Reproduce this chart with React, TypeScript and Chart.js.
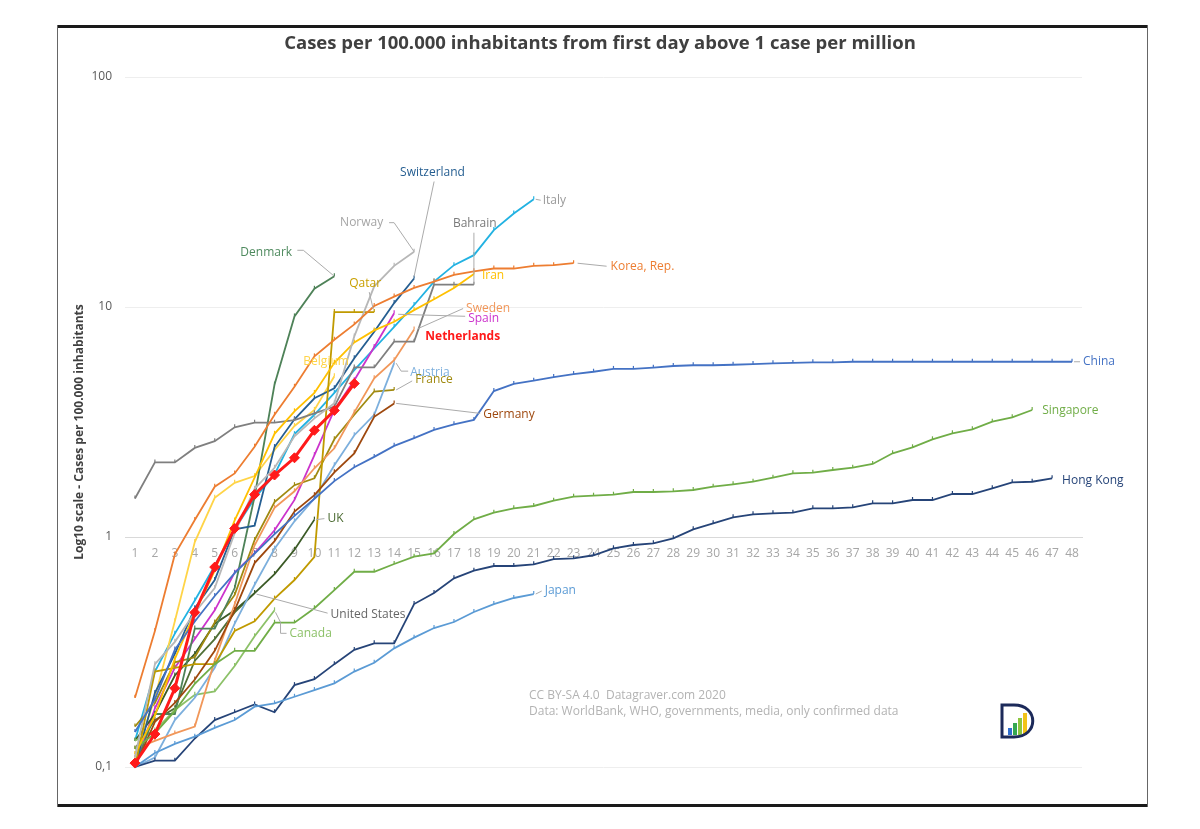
import React, { useEffect, useRef } from 'react';
import { Chart, registerables } from 'chart.js';

Chart.register(...registerables);

// ---------- data ----------
const dayLabels = ['1','2','3','4','5','6','7','8','9','10','11','12','13','14','15','16','17','18','19','20','21','22','23','24','25','26','27','28','29','30','31','32','33','34','35','36','37','38','39','40','41','42','43','44','45','46','47','48'];
const yTickValues = [0.1, 1, 10, 100];

const china = [0.142, 0.197, 0.324, 0.429, 0.554, 0.696, 0.847, 1.03, 1.235, 1.467, 1.75, 2.01, 2.23, 2.49, 2.69, 2.92, 3.09, 3.23, 4.31, 4.63, 4.78, 4.96, 5.11, 5.23, 5.38, 5.38, 5.45, 5.54, 5.58, 5.58, 5.61, 5.65, 5.69, 5.71, 5.75, 5.75, 5.78, 5.78, 5.78, 5.78, 5.78, 5.78, 5.78, 5.78, 5.78, 5.78, 5.78, 5.78];
const hongKong = [0.10, 0.1065, 0.1065, 0.133, 0.16, 0.173, 0.187, 0.173, 0.227, 0.241, 0.28, 0.323, 0.345, 0.345, 0.511, 0.571, 0.661, 0.714, 0.748, 0.748, 0.761, 0.802, 0.808, 0.833, 0.893, 0.923, 0.939, 0.987, 1.08, 1.147, 1.218, 1.255, 1.268, 1.276, 1.333, 1.333, 1.346, 1.401, 1.401, 1.448, 1.448, 1.538, 1.538, 1.628, 1.729, 1.739, 1.80];
const singapore = [0.12, 0.14, 0.175, 0.23, 0.28, 0.32, 0.32, 0.424, 0.424, 0.49, 0.588, 0.706, 0.706, 0.763, 0.821, 0.849, 1.03, 1.194, 1.276, 1.333, 1.364, 1.438, 1.497, 1.512, 1.527, 1.569, 1.569, 1.58, 1.601, 1.655, 1.695, 1.739, 1.81, 1.892, 1.904, 1.956, 2.001, 2.077, 2.311, 2.455, 2.659, 2.824, 2.94, 3.172, 3.315, 3.566];
const japan = [0.10, 0.115, 0.126, 0.1355, 0.148, 0.16, 0.183, 0.189, 0.202, 0.216, 0.231, 0.26, 0.284, 0.328, 0.365, 0.402, 0.427, 0.472, 0.511, 0.543, 0.565];
const italy = [0.13, 0.26, 0.38, 0.53, 0.75, 1.08, 1.47, 1.87, 2.8, 3.4, 4.23, 5.32, 6.6, 8.2, 10.2, 12.9, 15.2, 16.8, 21.6, 25.5, 29.4];
const korea = [0.2, 0.39, 0.84, 1.185, 1.655, 1.89, 2.47, 3.4, 4.5, 6.1, 7.2, 8.4, 10.1, 11.1, 12.1, 12.9, 13.8, 14.3, 14.7, 14.7, 15.1, 15.2, 15.5];
const iran = [0.114, 0.167, 0.295, 0.467, 0.714, 1.18, 1.81, 2.81, 3.52, 4.23, 5.72, 7.01, 7.91, 8.63, 9.69, 10.8, 12.1, 13.9];
const bahrain = [1.47, 2.11, 2.11, 2.44, 2.61, 3.0, 3.14, 3.14, 3.22, 3.45, 3.69, 5.46, 5.46, 7.07, 7.07, 12.5, 12.5, 12.5];
const switzerland = [0.1, 0.21, 0.31, 0.49, 0.65, 1.08, 1.12, 2.46, 3.25, 4.01, 4.43, 5.99, 7.81, 10.4, 13.3];
const norway = [0.11, 0.28, 0.35, 0.47, 0.6, 1.04, 1.62, 2.0, 2.74, 3.28, 3.82, 7.45, 12.3, 15.1, 17.4];
const denmark = [0.10, 0.17, 0.17, 0.4, 0.4, 0.6, 1.5, 4.6, 9.1, 12.0, 13.6];
const qatar = [0.10, 0.26, 0.27, 0.28, 0.28, 0.39, 0.43, 0.54, 0.65, 0.82, 9.5, 9.5, 9.5];
const sweden = [0.12, 0.13, 0.14, 0.15, 0.29, 0.51, 0.92, 1.34, 1.58, 1.99, 2.43, 3.48, 4.9, 5.87, 7.98];
const spain = [0.1, 0.18, 0.27, 0.36, 0.48, 0.7, 0.85, 1.07, 1.45, 2.27, 3.57, 4.8, 6.7, 9.39];
const netherlands = [0.104, 0.139, 0.22, 0.47, 0.74, 1.09, 1.53, 1.86, 2.21, 2.91, 3.55, 4.65];
const belgium = [0.11, 0.2, 0.43, 0.95, 1.48, 1.72, 1.84, 2.39, 3.04, 3.57, 5.0];
const austria = [0.1, 0.11, 0.16, 0.2, 0.27, 0.42, 0.62, 0.89, 1.17, 1.47, 2.05, 2.77, 3.4, 5.7];
const france = [0.15, 0.19, 0.285, 0.30, 0.425, 0.56, 0.97, 1.42, 1.68, 1.8, 2.66, 3.4, 4.29, 4.36];
const germany = [0.1, 0.157, 0.19, 0.24, 0.32, 0.48, 0.77, 0.96, 1.29, 1.52, 1.91, 2.31, 3.33, 3.81];
const uk = [0.13, 0.17, 0.25, 0.31, 0.42, 0.48, 0.57, 0.69, 0.88, 1.19];
const unitedStates = [0.12, 0.16, 0.18, 0.29, 0.36, 0.47, 0.57];
const canada = [0.13, 0.144, 0.177, 0.206, 0.213, 0.275, 0.37, 0.48];

const series: { name: string; data: number[] }[] = [
  { name: 'Netherlands', data: netherlands },
  { name: 'China', data: china },
  { name: 'Korea, Rep.', data: korea },
  { name: 'Norway', data: norway },
  { name: 'Iran', data: iran },
  { name: 'Japan', data: japan },
  { name: 'Singapore', data: singapore },
  { name: 'Hong Kong', data: hongKong },
  { name: 'Germany', data: germany },
  { name: 'Bahrain', data: bahrain },
  { name: 'Qatar', data: qatar },
  { name: 'Switzerland', data: switzerland },
  { name: 'Denmark', data: denmark },
  { name: 'Sweden', data: sweden },
  { name: 'Belgium', data: belgium },
  { name: 'Austria', data: austria },
  { name: 'Canada', data: canada },
  { name: 'France', data: france },
  { name: 'UK', data: uk },
  { name: 'United States', data: unitedStates },
  { name: 'Spain', data: spain },
  { name: 'Italy', data: italy },
];

// ---------- styles ----------
const lineColors: Record<string, string> = {
  'Netherlands': '#FF1A1A', 'China': '#4472C4', 'Korea, Rep.': '#ED7D31', 'Norway': '#B7B7B7',
  'Iran': '#FFC000', 'Japan': '#5B9BD5', 'Singapore': '#70AD47', 'Hong Kong': '#264478',
  'Germany': '#9E480E', 'Bahrain': '#7F7F7F', 'Qatar': '#C09A00', 'Switzerland': '#255E91',
  'Denmark': '#4E8258', 'Sweden': '#F1975A', 'Belgium': '#FFD447', 'Austria': '#7CAFDD',
  'Canada': '#8CC168', 'France': '#A08A10', 'UK': '#3B5A26', 'United States': '#4F6F35',
  'Spain': '#CC33CC', 'Italy': '#22B2E2',
};
const textColors: Record<string, string> = {
  'Italy': '#9A9A9A', 'United States': '#666666', 'Norway': '#A5A5A5', 'Bahrain': '#7A7A7A',
  'UK': '#4A6A30', 'Netherlands': '#FF1A1A', 'Denmark': '#4E8A5E', 'Qatar': '#C9A000',
};

type LabelCfg = { dx: number; dy: number; path?: number[][]; bold?: boolean };
const labelLayout: Record<string, LabelCfg> = {
  'Switzerland': { dx: -14, dy: -106, path: [[0, -2], [20, -97]] },
  'Norway': { dx: -74, dy: -29, path: [[0, 0], [-20, -29], [-25, -29]] },
  'Bahrain': { dx: -21, dy: -61, path: [[0, -1], [0, -52]] },
  'Italy': { dx: 9, dy: 1, path: [[2, 0], [7, 1]] },
  'Denmark': { dx: -94, dy: -24, path: [[0, 0], [-31, -26], [-37, -26]] },
  'Qatar': { dx: -25, dy: -29, path: [[-1, -3], [-5, -20]] },
  'Iran': { dx: 8, dy: 1 },
  'Korea, Rep.': { dx: 37, dy: 3, path: [[4, 0], [33, 3]] },
  'Sweden': { dx: 52, dy: -21, path: [[4, -1], [49, -21]] },
  'Spain': { dx: 74, dy: 5, path: [[4, 1], [71, 3]] },
  'Netherlands': { dx: 71, dy: -47, bold: true },
  'Belgium': { dx: -31, dy: -15 },
  'Austria': { dx: 16, dy: 9, path: [[2, 0], [7, 8], [14, 8]] },
  'France': { dx: 21, dy: -10, path: [[2, 0], [18, -9]] },
  'Germany': { dx: 89, dy: 11, path: [[2, 0], [86, 10]] },
  'China': { dx: 11, dy: 0, path: [[2, 0], [8, 0]] },
  'Singapore': { dx: 10, dy: 1 },
  'Hong Kong': { dx: 10, dy: 2 },
  'Japan': { dx: 11, dy: -3, path: [[2, 0], [8, -3]] },
  'UK': { dx: 13, dy: -1, path: [[2, 0], [10, -1]] },
  'United States': { dx: 76, dy: 21, path: [[2, 1], [73, 20]] },
  'Canada': { dx: 15, dy: 23, path: [[1, 2], [6, 12], [6, 23], [12, 23]] },
};

const FONT = "'Open Sans', 'DejaVu Sans', sans-serif";

const decorPlugin = {
  id: 'decor',
  beforeDraw(chart: any) {
    const ctx = chart.ctx;
    ctx.save();
    ctx.fillStyle = '#ffffff';
    ctx.fillRect(0, 0, chart.width, chart.height);
    // frame
    ctx.fillStyle = '#1a1a1a';
    ctx.fillRect(57, 25, 1091, 3);
    ctx.fillRect(57, 804, 1091, 3);
    ctx.fillStyle = '#666666';
    ctx.fillRect(57, 25, 1, 782);
    ctx.fillRect(1147, 25, 1, 782);
    ctx.restore();
  },
  afterDraw(chart: any) {
    const ctx = chart.ctx;
    ctx.save();
    // title
    ctx.fillStyle = '#404040';
    ctx.font = `bold 18.5px ${FONT}`;
    ctx.textAlign = 'center';
    ctx.textBaseline = 'middle';
    ctx.fillText('Cases per 100.000 inhabitants from first day above 1 case per million', 600, 44);
    // y title
    ctx.save();
    ctx.translate(80, 432);
    ctx.rotate(-Math.PI / 2);
    ctx.font = `bold 12px ${FONT}`;
    ctx.fillStyle = '#404040';
    ctx.fillText('Log10 scale - Cases per 100.000 inhabitants', 0, 0);
    ctx.restore();
    // watermark
    ctx.textAlign = 'left';
    ctx.font = `12px ${FONT}`;
    ctx.fillStyle = '#b3b3b3';
    ctx.fillText('CC BY-SA 4.0  Datagraver.com 2020', 529, 696);
    ctx.fillText('Data: WorldBank, WHO, governments, media, only confirmed data', 529, 712);
    // logo
    const bars = ['#2f6fd0', '#35a852', '#8cc63f', '#f2c318'];
    bars.forEach((c, i) => {
      ctx.fillStyle = c;
      const h = 7 + i * 5;
      ctx.fillRect(1008 + i * 5, 735 - h, 4, h);
    });
    ctx.strokeStyle = '#1c2a5a';
    ctx.lineWidth = 3;
    ctx.beginPath();
    ctx.moveTo(1002, 705);
    ctx.lineTo(1014, 705);
    ctx.bezierCurveTo(1039, 705, 1039, 737, 1014, 737);
    ctx.lineTo(1002, 737);
    ctx.closePath();
    ctx.stroke();
    ctx.restore();
  },
  afterDatasetsDraw(chart: any) {
    const ctx = chart.ctx;
    ctx.save();
    chart.data.datasets.forEach((ds: any, i: number) => {
      const cfg = labelLayout[ds.label];
      if (!cfg) return;
      const meta = chart.getDatasetMeta(i);
      const pt = meta.data[meta.data.length - 1];
      if (!pt) return;
      const x = pt.x, y = pt.y;
      if (cfg.path) {
        ctx.strokeStyle = '#ababab';
        ctx.lineWidth = 1;
        ctx.beginPath();
        cfg.path.forEach((p, k) => {
          if (k === 0) ctx.moveTo(x + p[0], y + p[1]);
          else ctx.lineTo(x + p[0], y + p[1]);
        });
        ctx.stroke();
      }
      ctx.font = `${cfg.bold ? 'bold ' : ''}12px ${FONT}`;
      ctx.fillStyle = textColors[ds.label] || lineColors[ds.label];
      ctx.textAlign = 'left';
      ctx.textBaseline = 'middle';
      ctx.fillText(ds.label, x + cfg.dx, y + cfg.dy);
    });
    ctx.restore();
  },
};

export default function App() {
  const ref = useRef<HTMLCanvasElement>(null);
  useEffect(() => {
    const canvas = ref.current;
    if (!canvas) return;
    const datasets = series.map((s) => {
      const nl = s.name === 'Netherlands';
      const c = lineColors[s.name];
      return {
        label: s.name,
        data: s.data,
        borderColor: c,
        backgroundColor: c,
        borderWidth: nl ? 3 : 1.8,
        pointStyle: nl ? 'rectRot' : 'dash',
        rotation: nl ? 0 : -90,
        pointRadius: nl ? 5 : 3,
        pointBorderWidth: nl ? 1 : 1.2,
        pointBorderColor: c,
        pointBackgroundColor: c,
        tension: 0,
        order: nl ? -1 : 0,
        clip: false as any,
      };
    });
    const chart = new Chart(canvas, {
      type: 'line',
      data: { labels: dayLabels, datasets: datasets as any },
      options: {
        animation: false,
        responsive: true,
        maintainAspectRatio: false,
        layout: { padding: { left: 0, right: 118, top: 77, bottom: 62 } },
        plugins: { legend: { display: false }, tooltip: { enabled: false }, title: { display: false } },
        scales: {
          x: {
            type: 'category',
            position: { y: 1 } as any,
            offset: true,
            grid: { display: false, drawTicks: false },
            border: { display: true, color: '#d9d9d9', width: 1 },
            ticks: { color: '#a6a6a6', font: { family: FONT, size: 12 }, padding: 9, autoSkip: false, maxRotation: 0 },
          },
          y: {
            type: 'logarithmic',
            position: 'left',
            min: 0.1,
            max: 100,
            afterFit: (scale: any) => { scale.width = 125; },
            afterBuildTicks: (scale: any) => { scale.ticks = yTickValues.map((v) => ({ value: v })); },
            grid: { color: '#eeeeee', drawTicks: false, lineWidth: 1 },
            border: { display: false },
            ticks: {
              color: '#595959',
              font: { family: FONT, size: 12 },
              padding: 13,
              callback: (v: any) => String(v).replace('.', ','),
            },
          },
        },
      },
      plugins: [decorPlugin],
    });
    return () => chart.destroy();
  }, []);
  return (
    <div style={{ position: 'fixed', left: 0, top: 0, width: 1200, height: 829, background: '#fff' }}>
      <canvas ref={ref} />
    </div>
  );
}
